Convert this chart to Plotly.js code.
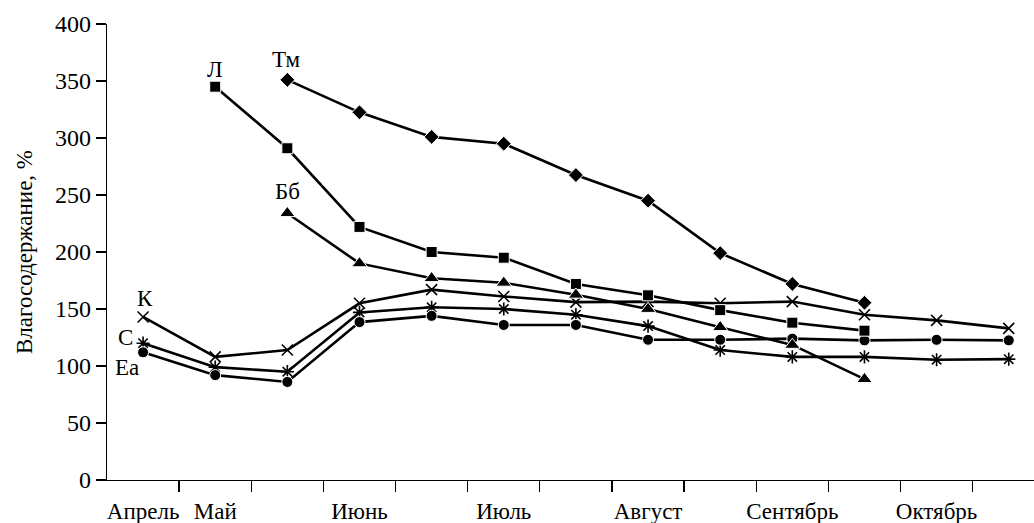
<!DOCTYPE html>
<html>
<head>
<meta charset="utf-8">
<script src="https://cdn.plot.ly/plotly-3.0.1.min.js"></script>
<style>html,body{margin:0;padding:0;background:#fff;}#chart{width:1034px;height:523px;}</style>
</head>
<body>
<div id="chart"></div>
<script>
// sampling positions (index along the season)
var xIdx = [0, 1, 2, 3, 4, 5, 6, 7, 8, 9, 10, 11, 12];
// month labels and the sampling index they sit under
var months = ['Апрель', 'Май', 'Июнь', 'Июль', 'Август', 'Сентябрь', 'Октябрь'];
var monthIdx = [0, 1, 3, 5, 7, 9, 11];
// tick marks between samples
var tickIdx = [0.5, 1.5, 2.5, 3.5, 4.5, 5.5, 6.5, 7.5, 8.5, 9.5, 10.5, 11.5];
var yTicks = [0, 50, 100, 150, 200, 250, 300, 350, 400];

// series values, %
var seriesK  = [143, 108, 114, 155, 167, 161, 156, 156.5, 155, 156.5, 145, 140, 133];
var seriesC  = [120, 99, 95, 147, 151.5, 150, 145, 135, 114, 108, 108, 105.5, 106];
var seriesEa = [112, 92, 86, 138.5, 144, 136, 136, 123, 123, 124, 122.5, 123, 122.5];
var seriesL  = [null, 345, 291, 222, 200, 195, 172, 162, 149, 138, 131, null, null];
var seriesTm = [null, null, 351, 322.5, 301, 295, 267.5, 245, 199, 172, 155.5, null, null];
var seriesBb = [null, null, 234, 190, 177, 173, 162.5, 150, 134, 118.5, 88.5, null, null];

var seriesNames = ['К', 'С', 'Еа', 'Л', 'Тм', 'Бб'];

var FONT = '"Liberation Serif", "Times New Roman", serif';
function tr(name, y, symbol, size, filled) {
  return {
    x: xIdx, y: y, name: name, type: 'scatter', mode: 'lines+markers',
    connectgaps: false,
    line: {color: '#000', width: 2.6},
    marker: {symbol: symbol, size: size, color: '#000',
      line: filled ? {color: '#fff', width: 1} : {color: '#000', width: 1.6}},
    cliponaxis: false
  };
}
var data = [
  tr('К', seriesK, 'x-thin', 11, false),
  tr('С', seriesC, 'asterisk', 11, false),
  tr('Еа', seriesEa, 'circle', 11, true),
  tr('Л', seriesL, 'square', 11, true),
  tr('Тм', seriesTm, 'diamond', 11.5, true),
  tr('Бб', seriesBb, 'triangle-up', 13.5, true)
];

// label positions (data units)
var labX = [0.03, -0.25, -0.22, 1.0, 1.98, 2.0];
var labY = [159, 125, 99, 360, 369, 253];
var annotations = seriesNames.map(function (n, i) {
  return {x: labX[i], y: labY[i], xref: 'x', yref: 'y', text: n, showarrow: false,
    font: {family: FONT, size: 23, color: '#000'}};
});

var layout = {
  width: 1034, height: 523,
  margin: {l: 107, r: 0, t: 24, b: 43},
  paper_bgcolor: '#fff', plot_bgcolor: '#fff',
  showlegend: false,
  font: {family: FONT, size: 23, color: '#000'},
  xaxis: {
    range: [-0.5, 12.35], showgrid: false, zeroline: false,
    showline: true, linecolor: '#000', linewidth: 1.3,
    tickmode: 'array', tickvals: monthIdx, ticktext: months,
    ticks: 'outside', ticklen: 10, tickcolor: 'rgba(0,0,0,0)',
    minor: {tickmode: 'array', tickvals: tickIdx, ticks: 'outside', ticklen: 11, tickcolor: '#000', tickwidth: 1.3, showgrid: false},
    tickfont: {family: FONT, size: 23, color: '#000'}
  },
  yaxis: {
    range: [0, 400], showgrid: false, zeroline: false,
    showline: true, linecolor: '#000', linewidth: 1.3,
    tickmode: 'array', tickvals: yTicks,
    ticks: 'outside', ticklen: 10, tickcolor: '#000', tickwidth: 1.3,
    tickfont: {family: FONT, size: 24, color: '#000'},
    title: {text: 'Влагосодержание, %', font: {family: FONT, size: 23, color: '#000'}, standoff: 16}
  },
  annotations: annotations
};
Plotly.newPlot('chart', data, layout, {staticPlot: true, displayModeBar: false});
</script>
</body>
</html>
